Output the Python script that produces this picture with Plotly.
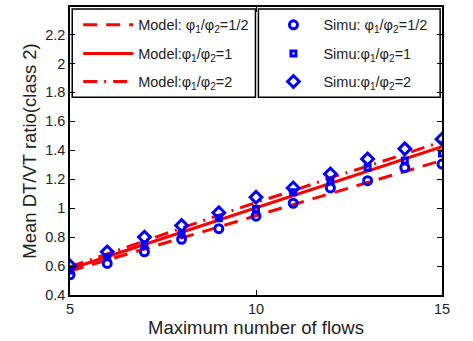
import plotly.graph_objects as go

# Maximum number of flows
flows = [5, 6, 7, 8, 9, 10, 11, 12, 13, 14, 15]

# Analytical model, mean DT/VT ratio of class 2
model_half = [0.565, 0.64, 0.72, 0.795, 0.87, 0.948, 1.025, 1.10, 1.18, 1.255, 1.33]
model_one = [0.58, 0.665, 0.75, 0.835, 0.92, 1.003, 1.09, 1.17, 1.255, 1.34, 1.425]
model_two = [0.595, 0.685, 0.775, 0.86, 0.95, 1.04, 1.12, 1.21, 1.29, 1.375, 1.46]

# Simulation results
simu_half = [0.54, 0.618, 0.698, 0.785, 0.858, 0.945, 1.034, 1.14, 1.19, 1.28, 1.305]
simu_one = [0.57, 0.66, 0.75, 0.82, 0.93, 0.995, 1.11, 1.19, 1.28, 1.33, 1.378]
simu_two = [0.60, 0.698, 0.80, 0.88, 0.968, 1.076, 1.14, 1.236, 1.34, 1.41, 1.477]

y_ticks = [0.4, 0.6, 0.8, 1.0, 1.2, 1.4, 1.6, 1.8, 2.0, 2.2]
y_tick_text = ["0.4", "0.6", "0.8", "1", "1.2", "1.4", "1.6", "1.8", "2", "2.2"]
x_ticks = [5, 10, 15]

RED = "#ff0000"
BLUE = "#0000ff"
PHI = "\u03c6<sub>1</sub>/\u03c6<sub>2</sub>"

# one single-entry legend per trace so each row can be placed freely
ROW_Y = [0.938, 0.838, 0.741]
MODEL_X = 0.022
SIMU_X = 0.52

fig = go.Figure()
legends = {}

models = [
    (model_half, f"Model: {PHI}=1/2", "14px,9px"),
    (model_one, f"Model:{PHI}=1", "solid"),
    (model_two, f"Model:{PHI}=2", "14px,7px,2px,7px"),
]
for i, (vals, name, dash) in enumerate(models):
    key = "legend" if i == 0 else f"legend{i + 1}"
    fig.add_trace(go.Scatter(
        x=flows, y=vals, mode="lines", name=name,
        line=dict(color=RED, width=3, dash=dash),
        legend=key,
    ))
    legends[key] = dict(x=MODEL_X, y=ROW_Y[i], itemwidth=50)

simus = [
    (simu_half, f"Simu: {PHI}=1/2", "circle-open", 8),
    (simu_one, f"Simu:{PHI}=1", "square-open", 5),
    (simu_two, f"Simu:{PHI}=2", "diamond-open", 9),
]
for i, (vals, name, sym, size) in enumerate(simus):
    key = f"legend{i + 4}"
    fig.add_trace(go.Scatter(
        x=flows, y=vals, mode="markers", name=name,
        marker=dict(symbol=sym, size=size, color=BLUE,
                    line=dict(color=BLUE, width=3)),
        legend=key,
    ))
    legends[key] = dict(x=SIMU_X, y=ROW_Y[i], itemwidth=50)

for key, spec in legends.items():
    legends[key] = dict(
        x=spec["x"], y=spec["y"], xanchor="left", yanchor="middle",
        bgcolor="rgba(0,0,0,0)", borderwidth=0,
        font=dict(size=14.5, color="#222"), itemwidth=spec["itemwidth"],
    )

axis_common = dict(
    showline=True, linecolor="black", linewidth=1.5, mirror="ticks",
    ticks="inside", ticklen=5, tickcolor="black", showgrid=False,
    zeroline=False, tickfont=dict(size=14.5, color="#222"),
)

fig.update_layout(
    width=473, height=341,
    margin=dict(l=70, r=31, t=5, b=46),
    paper_bgcolor="white", plot_bgcolor="white",
    font=dict(family="Liberation Sans, Arial, sans-serif", color="#222"),
    xaxis=dict(range=[5, 15], tickvals=x_ticks,
               title=dict(text="Maximum number of flows", font=dict(size=18.5), standoff=4),
               **axis_common),
    yaxis=dict(range=[0.4, 2.39], tickvals=y_ticks, ticktext=y_tick_text,
               title=dict(text="Mean DT/VT ratio(class 2)", font=dict(size=18.5), standoff=4),
               **axis_common),
    showlegend=True,
    shapes=[
        dict(type="rect", xref="paper", yref="paper", x0=0.006, x1=0.4985,
             y0=0.687, y1=0.993, line=dict(color="black", width=1.5),
             fillcolor="white", layer="below"),
        dict(type="rect", xref="paper", yref="paper", x0=0.5065, x1=0.995,
             y0=0.687, y1=0.993, line=dict(color="black", width=1.5),
             fillcolor="white", layer="below"),
    ],
    **legends,
)

fig.write_html("out.html")
